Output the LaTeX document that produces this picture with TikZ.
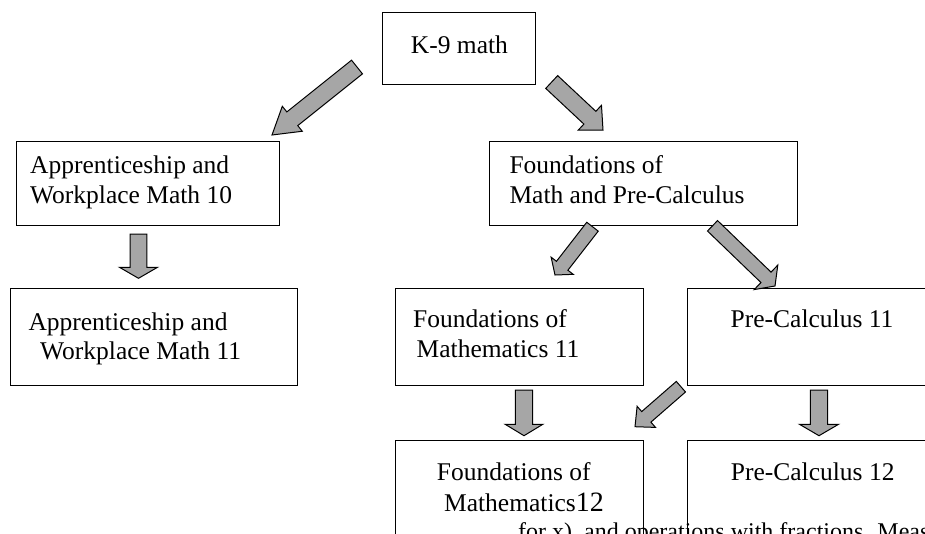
\documentclass[tikz,border=0pt]{standalone}
\usepackage{fontspec}
\setmainfont{Liberation Serif}
\usetikzlibrary{calc}
\definecolor{arrowgray}{RGB}{166,166,166}
\tikzset{
  boxst/.style={draw=black, line width=1.2pt, rectangle, inner sep=0pt, anchor=north west},
  txt/.style={inner sep=0pt, font=\fontsize{25.5}{30}\selectfont},
  smalltxt/.style={inner sep=0pt, font=\fontsize{24}{28}\selectfont},
  arrowst/.style={draw=black, fill=arrowgray, line width=1pt, line join=miter}
}
% #1 tail coordinate, #2 tip coordinate, #3 shaft half width, #4 head half width, #5 head length
\newcommand\blockarrow[5]{%
  \coordinate (ba-base) at ($(#2)!#5!(#1)$);
  \filldraw[arrowst]
    ($(#1)!#3!90:(#2)$) -- ($(ba-base)!#3!90:(#2)$) -- ($(ba-base)!#4!90:(#2)$)
    -- (#2) -- ($(ba-base)!#4!-90:(#2)$) -- ($(ba-base)!#3!-90:(#2)$)
    -- ($(#1)!#3!-90:(#2)$) -- cycle;
}
\begin{document}
\begin{tikzpicture}[x=1pt,y=-1pt]
\useasboundingbox (0,0) rectangle (925,533);
\fill[white] (0,0) rectangle (925,533);
\clip (0,0) rectangle (925,533);

% boxes
\node[boxst, minimum width=153pt, minimum height=72pt] (k9) at (382,11.5) {};
\node[boxst, minimum width=263pt, minimum height=84pt] (app10) at (16,141) {};
\node[boxst, minimum width=308pt, minimum height=84pt] (fp) at (489,141) {};
\node[boxst, minimum width=287.5pt, minimum height=96.5pt] (app11) at (9.5,288) {};
\node[boxst, minimum width=248.5pt, minimum height=97pt] (f11) at (394.5,288) {};
\node[boxst, minimum width=253pt, minimum height=97pt] (pc11) at (687,288) {};
\node[boxst, minimum width=248.5pt, minimum height=120pt] (f12) at (394.5,439.5) {};
\node[boxst, minimum width=253pt, minimum height=120pt] (pc12) at (687,439.5) {};

% texts
\node[txt, anchor=base west] (tk9) at (410.7,53.3) {K-9 math};
\node[txt, anchor=base west] (tfp1) at (509.3,173.3) {Foundations of};
\node[txt, anchor=base west] (tfp2) at (509.3,203.3) {Math and Pre-Calculus};
\node[txt, anchor=base west] (ta10a) at (30,173.3) {Apprenticeship and};
\node[txt, anchor=base west] (ta10b) at (30,203.3) {Workplace Math 10};
\node[txt, anchor=base west] (ta11a) at (28.3,330) {Apprenticeship and};
\node[txt, anchor=base west] (ta11b) at (40,359.3) {Workplace Math 11};
\node[txt, anchor=base west] (tf11a) at (413,327) {Foundations of};
\node[txt, anchor=base west] (tf11b) at (416.5,357) {Mathematics 11};
\node[txt, anchor=base] (tpc11) at (812,327) {Pre-Calculus 11};
\node[txt, anchor=base] (tf12a) at (513.8,480) {Foundations of};
\node[txt, anchor=base] (tf12b) at (524,511.7) {Mathematics{\fontsize{28}{30}\selectfont 12}};
\node[txt, anchor=base] (tpc12) at (812.7,480) {Pre-Calculus 12};
\node[smalltxt, anchor=base west] (tbot) at (518,539) {for x), and operations with fractions. Meas};

% arrow end points
\coordinate (a1s) at (357,67);   \coordinate (a1e) at (272,135);
\coordinate (a2s) at (551.7,82); \coordinate (a2e) at (603,130);
\coordinate (a3s) at (138.5,234); \coordinate (a3e) at (138.5,278.3);
\coordinate (a4s) at (592.5,226.7); \coordinate (a4e) at (555,275);
\coordinate (a5s) at (712.5,225.8); \coordinate (a5e) at (775,286);
\coordinate (a6s) at (524,390); \coordinate (a6e) at (524,435.7);
\coordinate (a7s) at (680.9,386.7); \coordinate (a7e) at (635,426.7);
\coordinate (a8s) at (819,390); \coordinate (a8e) at (819,435.7);

\blockarrow{a1s}{a1e}{8.75pt}{16pt}{26pt}
\blockarrow{a2s}{a2e}{8.75pt}{17pt}{18pt}
\blockarrow{a3s}{a3e}{8.4pt}{19pt}{11pt}
\blockarrow{a4s}{a4e}{7.25pt}{14pt}{11.7pt}
\blockarrow{a5s}{a5e}{7.25pt}{17pt}{12.5pt}
\blockarrow{a6s}{a6e}{8.7pt}{18.8pt}{11.4pt}
\blockarrow{a7s}{a7e}{7pt}{14pt}{15pt}
\blockarrow{a8s}{a8e}{8.7pt}{19.5pt}{11.4pt}
\end{tikzpicture}
\end{document}
